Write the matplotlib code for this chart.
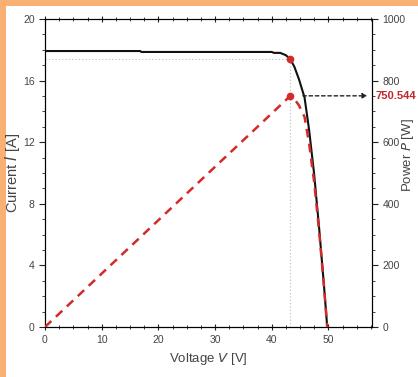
import matplotlib
matplotlib.use("Agg")
import matplotlib.pyplot as plt
from matplotlib.ticker import MultipleLocator
from matplotlib.patches import Rectangle

plt.rcParams['font.family'] = ['Liberation Sans', 'DejaVu Sans']

# I-V curve
voltage_iv = [0, 10, 16.8, 17.0, 30, 40.0, 40.4, 41.5, 42.5, 43.3, 44.0, 44.8,
              45.8, 46.6, 47.5, 48.4, 49.2, 49.8]
current_iv = [17.92, 17.92, 17.92, 17.86, 17.86, 17.86, 17.80, 17.80, 17.65,
              17.38, 16.9, 16.1, 14.9, 12.8, 9.9, 6.3, 2.8, 0]

# P-V curve
voltage_pv = [0, 43.3, 44.0, 44.8, 45.8, 46.6, 47.5, 48.4, 49.2, 49.8]
power_pv = [0, 750.544, 740, 720, 682, 596, 470, 305, 138, 0]

v_mpp = 43.3
i_mpp = 17.38
p_mpp = 750.544
mpp_label = "750.544"

red = '#d32a2a'
txt = '#444444'

fig = plt.figure(figsize=(4.18, 3.77), dpi=100)
fig.patch.set_facecolor('#f8b073')
fig.patches.append(Rectangle((6/418, 0), 1 - 6/418, 1 - 6/377,
                             transform=fig.transFigure, facecolor='white',
                             edgecolor='none', zorder=-10))

ax = fig.add_axes([45/418, (377-327)/377, (372-45)/418, (327-19)/377])
ax2 = ax.twinx()
ax.set_facecolor('none')
ax2.set_facecolor('none')

ax.set_xlim(0, 57.7)
ax.set_ylim(0, 20)
ax2.set_ylim(0, 1000)

# guide lines
ax.plot([0, v_mpp], [i_mpp, i_mpp], ls=(0, (1, 2)), color='#bbbbbb', lw=0.8, zorder=1)
ax.plot([v_mpp, v_mpp], [0, i_mpp], ls=(0, (1, 2)), color='#bbbbbb', lw=0.8, zorder=1)

ax.plot(voltage_iv, current_iv, color='#111111', lw=1.5, zorder=3)
ax.plot([v_mpp], [i_mpp], 'o', color=red, ms=4.5, zorder=4)

ax2.plot(voltage_pv, power_pv, color=red, lw=1.8, ls=(0, (3.5, 2.5)), zorder=3)
ax2.plot([v_mpp], [p_mpp], 'o', color=red, ms=4.5, zorder=4)

ax2.annotate('', xy=(56.9, p_mpp), xytext=(45.5, p_mpp),
             arrowprops=dict(arrowstyle='-|>', color='#222222', lw=1.0,
                             ls=(0, (2.5, 2)), mutation_scale=7, shrinkA=0, shrinkB=0))
ax2.text(1.012, p_mpp / 1000, mpp_label, transform=ax2.transAxes, color='#c0272d',
         fontsize=8, fontweight='bold', va='center', ha='left')

ax.xaxis.set_major_locator(MultipleLocator(10))
ax.xaxis.set_minor_locator(MultipleLocator(2.5))
ax.yaxis.set_major_locator(MultipleLocator(4))
ax.yaxis.set_minor_locator(MultipleLocator(1))
ax2.yaxis.set_major_locator(MultipleLocator(200))
ax2.yaxis.set_minor_locator(MultipleLocator(50))

ax.tick_params(axis='x', which='both', direction='inout', top=True, labelsize=7.5, colors='#222222', labelcolor=txt)
ax.tick_params(axis='x', which='major', length=5)
ax.tick_params(axis='x', which='minor', length=3)
ax.tick_params(axis='y', which='both', direction='out', labelsize=7.5, colors='#222222', labelcolor=txt)
ax.tick_params(axis='y', which='major', length=4)
ax.tick_params(axis='y', which='minor', length=2.5)
ax2.tick_params(axis='y', which='both', direction='out', labelsize=7.5, colors='#222222', labelcolor=txt)
ax2.tick_params(axis='y', which='major', length=4)
ax2.tick_params(axis='y', which='minor', length=2.5)

for a in (ax, ax2):
    for s in a.spines.values():
        s.set_linewidth(0.8)

ax.set_xlabel('Voltage $\\it{V}$ [V]', fontsize=9.5, color=txt, labelpad=4)
ax.set_ylabel('Current $\\it{I}$ [A]', fontsize=10.5, color=txt)
ax2.set_ylabel('Power $\\it{P}$ [W]', fontsize=9.5, color=txt)
ax.yaxis.set_label_coords((22 - 45) / 327, 0.5)
ax2.yaxis.set_label_coords((400 - 45) / 327, (327 - 155) / 308)

fig.savefig('out.png', dpi=100, facecolor=fig.get_facecolor())
